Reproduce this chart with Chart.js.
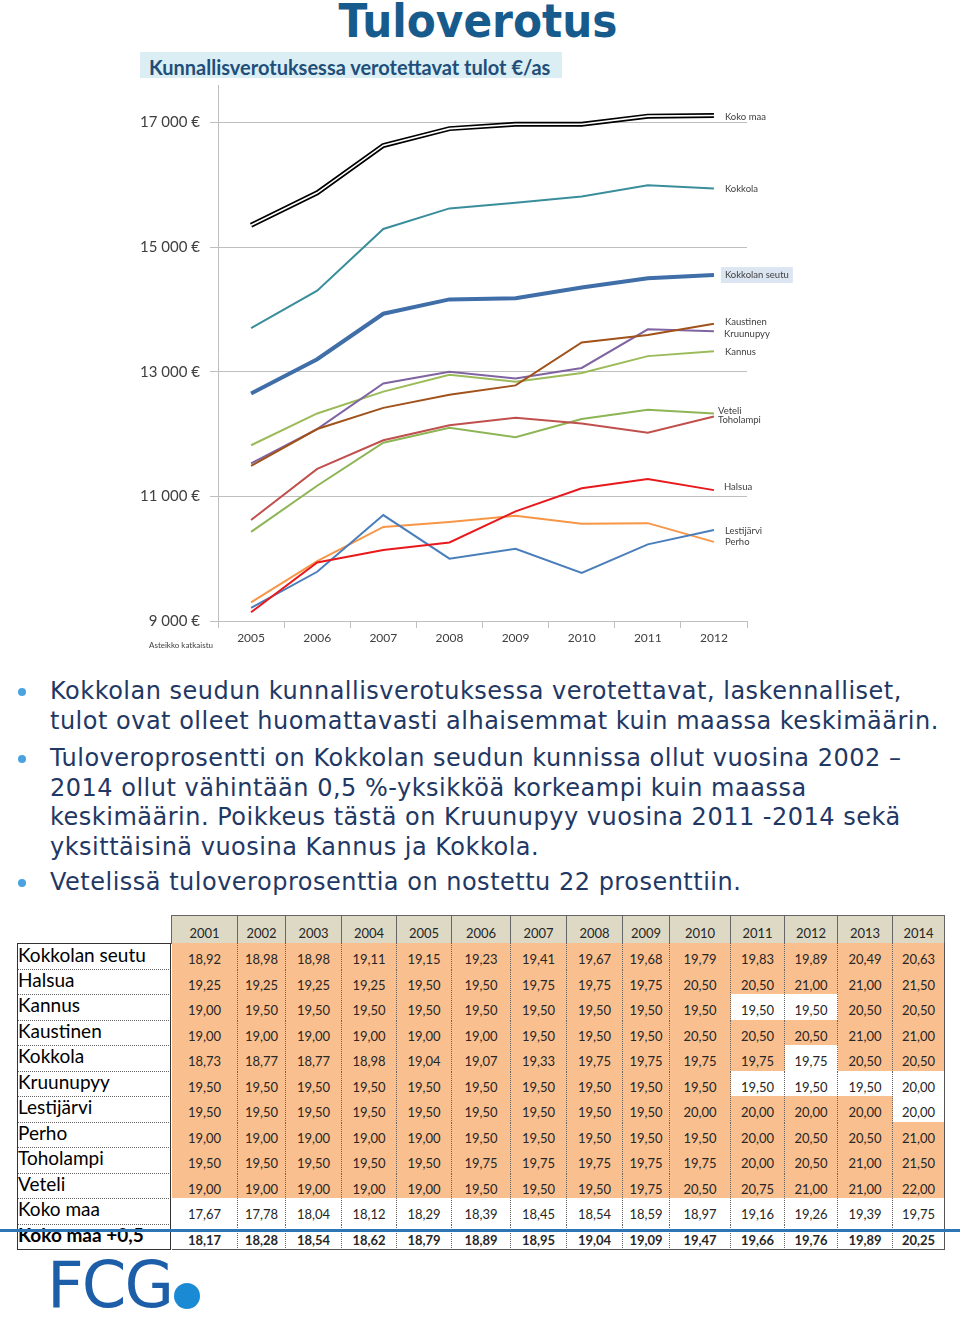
<!DOCTYPE html>
<html>
<head>
<meta charset="utf-8">
<script src="https://cdn.jsdelivr.net/npm/chart.js@4"></script>
<style>
  body { margin: 0; width: 960px; height: 1318px; position: relative; background: #fff; overflow: hidden; font-family: Lato, sans-serif; }
  #title { position: absolute; left: 0; width: 956px; top: -7px; text-align: center; font-family: "DejaVu Sans Condensed", "DejaVu Sans", sans-serif; font-weight: bold; font-size: 47px; color: #175b8c; }
  #subtitle { position: absolute; left: 140px; top: 52px; width: 422px; height: 26px; background: #dbeef4; }
  #subtitle span { position: absolute; left: 9px; top: 3px; font-weight: bold; font-size: 20px; color: #1f4e79; white-space: nowrap; }
  #chartBox { position: absolute; left: 120px; top: 80px; width: 690px; height: 580px; }
  #scaleNote { position: absolute; left: 149px; top: 640px; font-size: 8px; color: #404040; }
  .bullet { position: absolute; left: 50px; font-family: "DejaVu Sans", sans-serif; font-size: 24px; letter-spacing: 0.5px; line-height: 29.7px; color: #1f3864; white-space: nowrap; }
  .dot { position: absolute; left: 18px; width: 8px; height: 8px; border-radius: 50%; background: #4aa3df; }
  .cell { position: absolute; box-sizing: border-box; text-align: center; white-space: nowrap; }
  #blueLine { position: absolute; left: 0; top: 1229px; width: 960px; height: 3px; background: #2e75b6; z-index: 5; }
  #logo { position: absolute; left: 47px; top: 1248px; font-family: "DejaVu Sans", sans-serif; font-size: 64px; color: #1d5ea8; letter-spacing: -2px; }
  #logoDot { position: absolute; left: 174px; top: 1283px; width: 26px; height: 26px; border-radius: 50%; background: #1a8ad4; }
</style>
</head>
<body>
<div id="title">Tuloverotus</div>
<div id="subtitle"><span>Kunnallisverotuksessa verotettavat tulot €/as</span></div>
<div id="chartBox"><canvas id="incomeChart"></canvas></div>
<div id="scaleNote">Asteikko katkaistu</div>

<div class="dot" style="top:688px"></div>
<div class="bullet" style="top:677px">Kokkolan seudun kunnallisverotuksessa verotettavat, laskennalliset,<br>tulot ovat olleet huomattavasti alhaisemmat kuin maassa keskimäärin.</div>
<div class="dot" style="top:755px"></div>
<div class="bullet" style="top:744px">Tuloveroprosentti on Kokkolan seudun kunnissa ollut vuosina 2002 –<br>2014 ollut vähintään 0,5 %-yksikköä korkeampi kuin maassa<br>keskimäärin. Poikkeus tästä on Kruunupyy vuosina 2011 -2014 sekä<br>yksittäisinä vuosina Kannus ja Kokkola.</div>
<div class="dot" style="top:879px"></div>
<div class="bullet" style="top:868px">Vetelissä tuloveroprosenttia on nostettu 22 prosenttiin.</div>

<div id="taxTable"></div>
<div id="blueLine"></div>
<div id="logo">FCG</div>
<div id="logoDot"></div>

<script>
// Taxable income per inhabitant (€)
var years = ['2005', '2006', '2007', '2008', '2009', '2010', '2011', '2012'];
var kokoMaa = [15350, 15870, 16630, 16900, 16970, 16970, 17100, 17110];
var kokkola = [13700, 14300, 15290, 15620, 15710, 15810, 15990, 15940];
var kokkolanSeutu = [12650, 13200, 13930, 14160, 14180, 14350, 14500, 14550];
var kaustinen = [11490, 12080, 12420, 12630, 12780, 13470, 13590, 13770];
var kruunupyy = [11530, 12080, 12810, 13000, 12890, 13060, 13680, 13650];
var kannus = [11820, 12330, 12680, 12950, 12840, 12980, 13250, 13330];
var toholampi = [10620, 11440, 11900, 12140, 12260, 12170, 12020, 12280];
var veteli = [10430, 11170, 11860, 12100, 11950, 12240, 12390, 12330];
var halsua = [9140, 9940, 10140, 10260, 10760, 11130, 11280, 11100];
var lestijarvi = [9210, 9790, 10700, 10000, 10160, 9770, 10230, 10460];
var perho = [9300, 9960, 10510, 10590, 10690, 10560, 10570, 10270];
var yTicks = [9000, 11000, 13000, 15000, 17000];

// Income tax percentages for the table
var taxYears = ['2001', '2002', '2003', '2004', '2005', '2006', '2007', '2008', '2009', '2010', '2011', '2012', '2013', '2014'];
var taxRowNames = ['Kokkolan seutu', 'Halsua', 'Kannus', 'Kaustinen', 'Kokkola', 'Kruunupyy', 'Lestijärvi', 'Perho', 'Toholampi', 'Veteli', 'Koko maa', 'Koko maa +0,5'];
var taxKokkolanSeutu = [18.92, 18.98, 18.98, 19.11, 19.15, 19.23, 19.41, 19.67, 19.68, 19.79, 19.83, 19.89, 20.49, 20.63];
var taxHalsua = [19.25, 19.25, 19.25, 19.25, 19.50, 19.50, 19.75, 19.75, 19.75, 20.50, 20.50, 21.00, 21.00, 21.50];
var taxKannus = [19.00, 19.50, 19.50, 19.50, 19.50, 19.50, 19.50, 19.50, 19.50, 19.50, 19.50, 19.50, 20.50, 20.50];
var taxKaustinen = [19.00, 19.00, 19.00, 19.00, 19.00, 19.00, 19.50, 19.50, 19.50, 20.50, 20.50, 20.50, 21.00, 21.00];
var taxKokkola = [18.73, 18.77, 18.77, 18.98, 19.04, 19.07, 19.33, 19.75, 19.75, 19.75, 19.75, 19.75, 20.50, 20.50];
var taxKruunupyy = [19.50, 19.50, 19.50, 19.50, 19.50, 19.50, 19.50, 19.50, 19.50, 19.50, 19.50, 19.50, 19.50, 20.00];
var taxLestijarvi = [19.50, 19.50, 19.50, 19.50, 19.50, 19.50, 19.50, 19.50, 19.50, 20.00, 20.00, 20.00, 20.00, 20.00];
var taxPerho = [19.00, 19.00, 19.00, 19.00, 19.00, 19.50, 19.50, 19.50, 19.50, 19.50, 20.00, 20.50, 20.50, 21.00];
var taxToholampi = [19.50, 19.50, 19.50, 19.50, 19.50, 19.75, 19.75, 19.75, 19.75, 19.75, 20.00, 20.50, 21.00, 21.50];
var taxVeteli = [19.00, 19.00, 19.00, 19.00, 19.00, 19.50, 19.50, 19.50, 19.75, 20.50, 20.75, 21.00, 21.00, 22.00];
var taxKokoMaa = [17.67, 17.78, 18.04, 18.12, 18.29, 18.39, 18.45, 18.54, 18.59, 18.97, 19.16, 19.26, 19.39, 19.75];
var taxKokoMaaPlus = [18.17, 18.28, 18.54, 18.62, 18.79, 18.89, 18.95, 19.04, 19.09, 19.47, 19.66, 19.76, 19.89, 20.25];

/**
 * Build a plain line dataset
 */
function line(label, data, color, width, order) {
  return {
    label: label, data: data, borderColor: color, backgroundColor: color,
    borderWidth: width, pointRadius: 0, tension: 0, order: order
  };
}

// Names drawn at the right end of each line
var endLabels = [
  { text: 'Koko maa', data: kokoMaa, dx: 11, dy: 1 },
  { text: 'Kokkola', data: kokkola, dx: 11, dy: 0 },
  { text: 'Kokkolan seutu', data: kokkolanSeutu, dx: 11, dy: 0, box: true },
  { text: 'Kaustinen', data: kaustinen, dx: 11, dy: -2 },
  { text: 'Kruunupyy', data: kruunupyy, dx: 10, dy: 3 },
  { text: 'Kannus', data: kannus, dx: 11, dy: 1 },
  { text: 'Veteli', data: veteli, dx: 4, dy: -3 },
  { text: 'Toholampi', data: toholampi, dx: 4, dy: 3 },
  { text: 'Halsua', data: halsua, dx: 10, dy: -3 },
  { text: 'Lestijärvi', data: lestijarvi, dx: 11, dy: 1 },
  { text: 'Perho', data: perho, dx: 11, dy: 0 }
];

var endLabelPlugin = {
  id: 'endLabels',
  afterDatasetsDraw: function (chart) {
    var ctx = chart.ctx;
    var xScale = chart.scales.x;
    var yScale = chart.scales.y;
    var last = years.length - 1;
    ctx.save();
    ctx.font = '9.5px Lato';
    ctx.textBaseline = 'middle';
    endLabels.forEach(function (l) {
      var x = xScale.getPixelForValue(last) + l.dx;
      var y = yScale.getPixelForValue(l.data[last]) + l.dy;
      if (l.box) {
        var w = ctx.measureText(l.text).width;
        ctx.fillStyle = '#dce6f2';
        ctx.fillRect(x - 4, y - 8, w + 8, 16);
      }
      ctx.fillStyle = '#404040';
      ctx.fillText(l.text, x, y);
    });
    ctx.restore();
  }
};

var canvas = document.getElementById('incomeChart');
new Chart(canvas.getContext('2d'), {
  type: 'line',
  data: {
    labels: years,
    datasets: [
      line('Koko maa', kokoMaa, '#ffffff', 1.6, 0),
      line('Koko maa', kokoMaa, '#000000', 5, 1),
      line('Kokkola', kokkola, '#3a8e9c', 2, 2),
      line('Kokkolan seutu', kokkolanSeutu, '#3f6ea8', 4, 2),
      line('Kaustinen', kaustinen, '#a0521a', 2, 2),
      line('Kruunupyy', kruunupyy, '#8064a2', 2, 2),
      line('Kannus', kannus, '#9bbb59', 2, 2),
      line('Toholampi', toholampi, '#c0504d', 2, 2),
      line('Veteli', veteli, '#8db555', 2, 2),
      line('Halsua', halsua, '#e8191c', 2, 2),
      line('Lestijärvi', lestijarvi, '#4a7ebb', 2, 2),
      line('Perho', perho, '#f79646', 2, 2)
    ]
  },
  options: {
    responsive: true,
    maintainAspectRatio: false,
    animation: false,
    layout: { padding: { top: 5, right: 63, left: 0, bottom: 0 } },
    plugins: { legend: { display: false }, tooltip: { enabled: false } },
    scales: {
      x: {
        offset: true,
        grid: { offset: true, drawOnChartArea: false, tickLength: 7, color: '#bfbfbf' },
        border: { color: '#bfbfbf' },
        ticks: { font: { family: 'Lato', size: 12 }, color: '#404040', padding: 3, maxRotation: 0 },
        afterFit: function (scale) { scale.height = 39; }
      },
      y: {
        min: 9000,
        max: 17600,
        ticks: {
          font: { family: 'Lato', size: 15 },
          color: '#404040',
          padding: 10,
          callback: function (value) {
            return String(value).replace(/\B(?=(\d{3})+(?!\d))/g, ' ') + ' €';
          }
        },
        afterBuildTicks: function (scale) {
          scale.ticks = yTicks.map(function (v) { return { value: v }; });
        },
        grid: { color: '#bfbfbf', tickLength: 8 },
        border: { color: '#bfbfbf' },
        afterFit: function (scale) {
          scale.width = 98;
          scale.paddingTop = 0;
        }
      }
    }
  },
  plugins: [endLabelPlugin]
});

// Tax table
var taxRows = [taxKokkolanSeutu, taxHalsua, taxKannus, taxKaustinen, taxKokkola, taxKruunupyy,
  taxLestijarvi, taxPerho, taxToholampi, taxVeteli, taxKokoMaa, taxKokoMaaPlus];
var colEdges = [171, 237, 285, 341, 396, 451, 510, 566, 622, 669, 730, 784, 837, 892, 944];
var whiteCells = { '2-10': 1, '2-11': 1, '4-11': 1, '5-10': 1, '5-11': 1, '5-12': 1, '5-13': 1, '6-13': 1 };
var headerTop = 915, bodyTop = 943, rowH = 25.5;
var table = document.getElementById('taxTable');

function addCell(left, top, width, height, text, css) {
  var d = document.createElement('div');
  d.className = 'cell';
  d.style.left = left + 'px';
  d.style.top = top + 'px';
  d.style.width = width + 'px';
  d.style.height = height + 'px';
  d.textContent = text;
  for (var k in css) d.style[k] = css[k];
  table.appendChild(d);
}

taxYears.forEach(function (y, c) {
  addCell(colEdges[c], headerTop, colEdges[c + 1] - colEdges[c] + 1, bodyTop - headerTop + 1, y, {
    background: '#ddd9c4', border: '1px solid #666', fontSize: '13px', color: '#262626',
    lineHeight: '34px'
  });
});

taxRows.forEach(function (vals, r) {
  var top = bodyTop + r * rowH;
  var lastRow = r === taxRows.length - 1;
  var bold = lastRow ? 'bold' : 'normal';
  addCell(17, top, 154, rowH + 1, taxRowNames[r], {
    textAlign: 'left', fontSize: '19px', lineHeight: '22px', color: '#000', fontWeight: bold,
    borderLeft: '1px solid #333', borderRight: '1px solid #333',
    borderTop: r === 0 ? '1px solid #333' : 'none',
    borderBottom: lastRow ? '1px solid #333' : '1px dotted #666'
  });
  vals.forEach(function (v, c) {
    var white = r >= 10 || whiteCells[r + '-' + c];
    var lastCol = c === vals.length - 1;
    addCell(colEdges[c] + 1, top, colEdges[c + 1] - colEdges[c], rowH + 1, v.toFixed(2).replace('.', ','), {
      background: white ? '#ffffff' : '#fabf8f', fontSize: '13px', color: '#262626', fontWeight: bold,
      lineHeight: '32px',
      borderRight: lastCol ? '1px solid #555' : '1px dotted #666',
      borderBottom: lastRow ? '1px solid #555' : '1px dotted #666'
    });
  });
});
</script>
</body>
</html>
